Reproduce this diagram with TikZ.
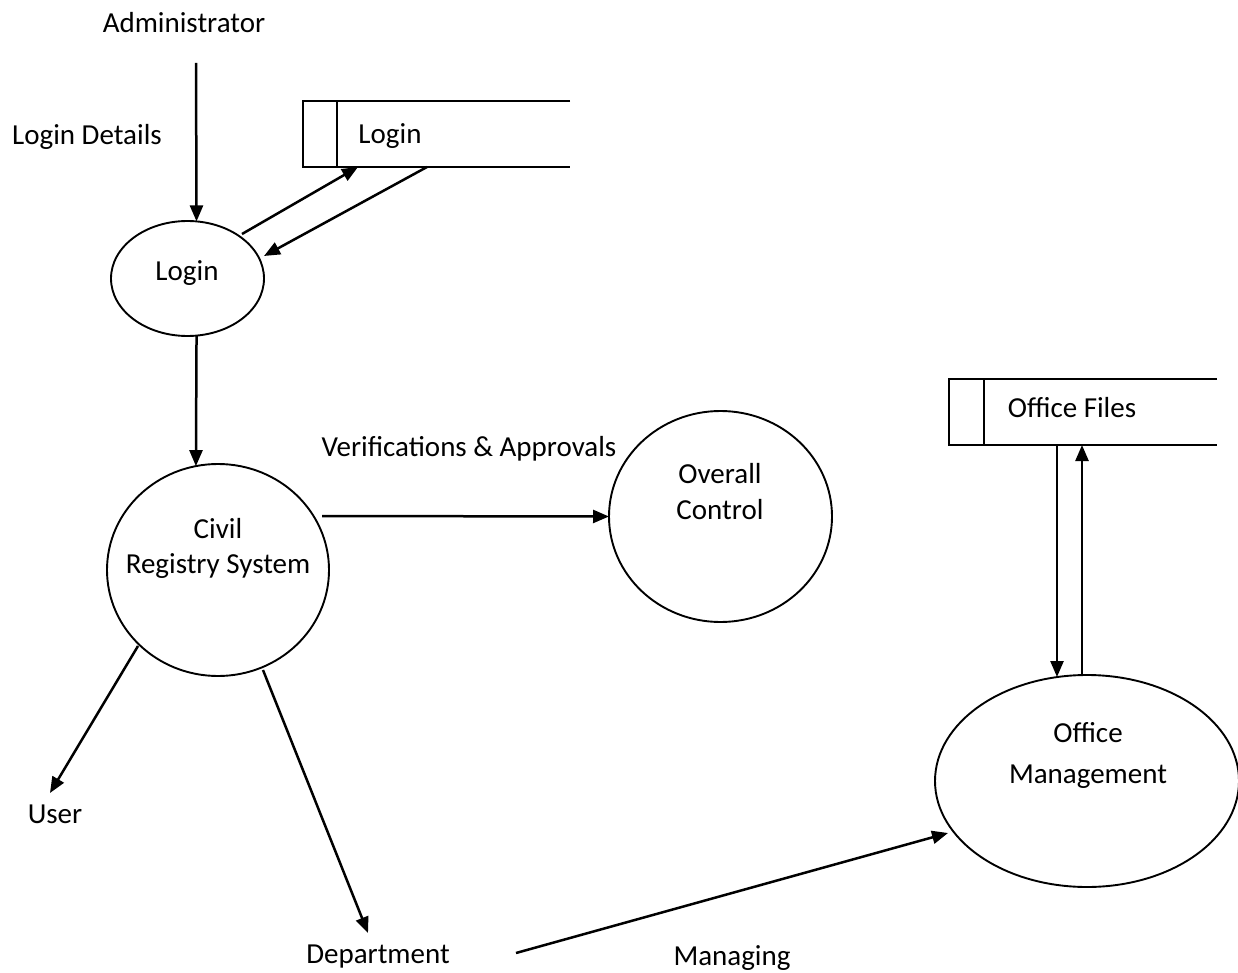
\documentclass[tikz,border=0pt]{standalone}
\usepackage{fontspec}
\setmainfont{Carlito}
\usetikzlibrary{arrows.meta,calc,shapes.geometric}
\begin{document}
\begin{tikzpicture}[x=1pt,y=-1pt,
  every node/.style={font=\fontsize{29}{34}\selectfont, inner sep=0pt, outer sep=0pt},
  lbl/.style={anchor=base},
  proc/.style={ellipse, draw, line width=1.9pt},
  store/.style={rectangle},
  flow/.style={line width=2.5pt, -{Triangle[length=16pt,width=13pt]}},
  storeline/.style={line width=2.2pt}]
\useasboundingbox (0,0) rectangle (1238,973);

% processes
\node[proc, minimum width=153pt, minimum height=115pt] (loginE) at (187.5,278.5) {};
\node[proc, minimum width=222pt, minimum height=212pt] (civil) at (218,570) {};
\node[proc, minimum width=223pt, minimum height=211pt] (overall) at (720.5,516.5) {};
\node[proc, minimum width=304pt, minimum height=212pt] (office) at (1087,781) {};

% data stores
\node[store, minimum width=267pt, minimum height=66pt] (lstore) at (436.5,134) {};
\node[store, minimum width=268pt, minimum height=66pt] (ostore) at (1083,412) {};
\draw[storeline] (lstore.north east) -- (lstore.north west) -- (lstore.south west) -- (lstore.south east);
\draw[storeline] ($(lstore.north west)+(34,0)$) -- ($(lstore.south west)+(34,0)$);
\draw[storeline] (ostore.north east) -- (ostore.north west) -- (ostore.south west) -- (ostore.south east);
\draw[storeline] ($(ostore.north west)+(35,0)$) -- ($(ostore.south west)+(35,0)$);

% texts
\node[lbl] (admin) at (184,33) {Administrator};
\node[lbl] (logdet) at (87,145) {Login Details};
\node[lbl] (lstoreT) at (390,144) {Login};
\node[lbl] (loginT) at (187,280) {Login};
\node[lbl] (verif) at (469,456) {Verifications \& Approvals};
\node[lbl] (civA) at (218,538) {Civil};
\node[lbl] (civB) at (218,573) {Registry System};
\node[lbl] (ovA) at (720,483) {Overall};
\node[lbl] (ovB) at (720,519) {Control};
\node[lbl] (ostoreT) at (1072,417) {Office Files};
\node[lbl] (offA) at (1088,742) {Office};
\node[lbl] (offB) at (1088,783) {Management};
\node[lbl] (user) at (55,823) {User};
\node[lbl] (dept) at (378,963) {Department};
\node[lbl] (manag) at (732,965) {Managing};

% flows
\draw[flow] ($(admin.base)+(12,30)$) -- (loginE.81.6);
\draw[flow] (loginE.-81.6) -- (civil.102.2);
\draw[flow] ($(loginE.center)+(54.5,-44.5)$) -- ($(lstore.south west)+(55,0)$);
\draw[flow] ($(lstore.south west)+(124,0)$) -- ($(loginE.center)+(76.5,-22.5)$);
\draw[flow] ($(civil.center)+(104,-54)$) -- (overall.west);
\draw[flow] ($(civil.center)+(-80,76)$) -- ($(user.base)+(-5,-30)$);
\draw[flow] ($(civil.center)+(45,100)$) -- ($(dept.base)+(-10,-30)$);
\draw[flow] ($(dept.base)+(138,-10)$) -- ($(office.center)+(-139,52)$);
\draw[flow] ($(ostore.south west)+(108,0)$) -- ($(office.center)+(-30,-104)$);
\draw[flow] ($(office.center)+(-5,-106)$) -- ($(ostore.south west)+(133,0)$);
\end{tikzpicture}
\end{document}
